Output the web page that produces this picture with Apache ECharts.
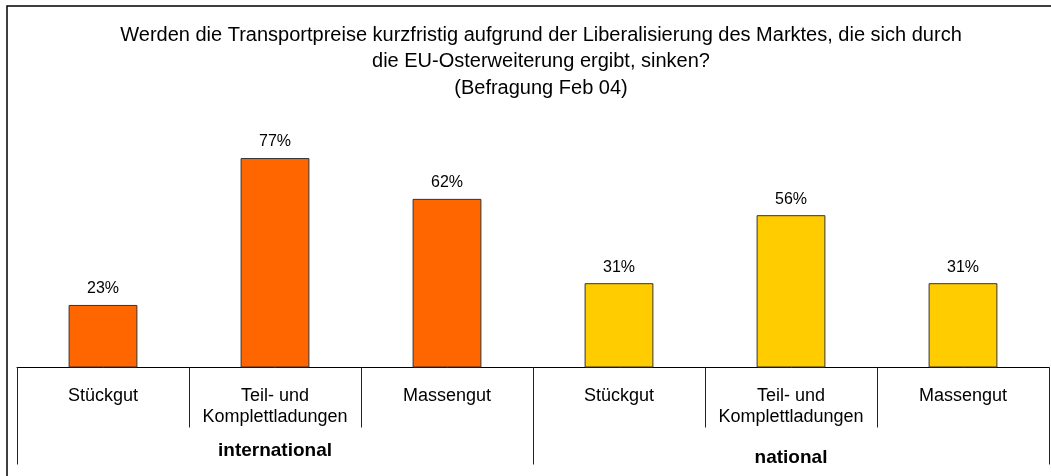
<!DOCTYPE html>
<html>
<head>
<meta charset="utf-8">
<script src="https://cdn.jsdelivr.net/npm/echarts@6/dist/echarts.min.js"></script>
<style>
    html, body { margin: 0; padding: 0; background: #fff; }
    #chart { width: 1051px; height: 476px; }
</style>
</head>
<body>
<div id="chart"></div>
<script>
    // Kategorien und Werte (in %)
    const categories = ['Stückgut', 'Teil- und\nKomplettladungen', 'Massengut', 'Stückgut', 'Teil- und\nKomplettladungen', 'Massengut']
    const groups = ['international', 'national']
    const internationalValues = [23, 77, 62]
    const nationalValues = [31, 56, 31]
    const valueTicks = [0, 100]

    const titleText = 'Werden die Transportpreise kurzfristig aufgrund der Liberalisierung des Marktes, die sich durch\ndie EU-Osterweiterung ergibt, sinken?\n(Befragung Feb 04)'
    const font = '"Liberation Sans", Arial, Helvetica, sans-serif'

    const barData = internationalValues.map(v => ({ value: v, itemStyle: { color: '#FF6600' } }))
        .concat(nationalValues.map(v => ({ value: v, itemStyle: { color: '#FFCC00' } })))

    const myChart = echarts.init(document.getElementById('chart'))
    const option = {
        backgroundColor: '#fff',
        animation: false,
        textStyle: { fontFamily: font },
        title: {
            text: titleText,
            left: 536,
            top: 17,
            textAlign: 'center',
            textStyle: {
                fontFamily: font,
                fontSize: 20,
                fontWeight: 'normal',
                color: '#000',
                lineHeight: 26.5
            }
        },
        graphic: [
            {
                // Rahmen links/oben
                type: 'rect',
                shape: { x: 7, y: 6, width: 1200, height: 600 },
                style: { fill: 'none', stroke: '#000', lineWidth: 1.5 },
                silent: true
            }
        ],
        grid: {
            left: 17,
            right: 2,
            top: 95.5,
            bottom: 108.5,
            containLabel: false
        },
        xAxis: [
            {
                // Kategorien mit Trennlinien
                type: 'category',
                data: categories,
                position: 'bottom',
                axisLine: { show: true, lineStyle: { color: '#000', width: 1 } },
                axisTick: { show: true, interval: 0, length: 60, lineStyle: { color: '#222' } },
                axisLabel: {
                    interval: 0,
                    margin: 18,
                    fontSize: 18,
                    lineHeight: 21,
                    color: '#000',
                    fontFamily: font
                },
                splitLine: { show: false }
            },
            {
                // Gruppen: international / national
                type: 'category',
                data: groups,
                position: 'bottom',
                axisLine: { show: false },
                axisTick: { show: true, interval: 0, length: 97, lineStyle: { color: '#222' } },
                axisLabel: {
                    interval: 0,
                    margin: 74,
                    color: '#000',
                    formatter: function (v) {
                        return v === 'national' ? '{b|' + v + '}' : '{a|' + v + '}'
                    },
                    rich: {
                        a: { fontSize: 19, fontWeight: 'bold', fontFamily: font, color: '#000', lineHeight: 19 },
                        b: { fontSize: 19, fontWeight: 'bold', fontFamily: font, color: '#000', lineHeight: 19, padding: [13, 0, 0, 0] }
                    }
                },
                splitLine: { show: false }
            },
            {
                // kleine Striche in Balkenmitte
                type: 'category',
                data: categories,
                position: 'bottom',
                axisLine: { show: false },
                axisTick: { show: true, alignWithLabel: true, inside: true, interval: 0, length: 5, lineStyle: { color: '#555' } },
                axisLabel: { show: false },
                splitLine: { show: false }
            }
        ],
        yAxis: {
            type: 'value',
            min: valueTicks[0],
            max: valueTicks[1],
            show: false,
            splitLine: { show: false }
        },
        series: [
            {
                type: 'bar',
                xAxisIndex: 0,
                barWidth: '40%',
                data: barData,
                z: 1,
                itemStyle: { borderColor: '#333', borderWidth: 1 },
                label: {
                    show: true,
                    position: 'top',
                    distance: 8,
                    formatter: '{c}%',
                    fontSize: 16,
                    color: '#000',
                    fontFamily: font
                }
            }
        ]
    }
    myChart.setOption(option)
</script>
</body>
</html>
